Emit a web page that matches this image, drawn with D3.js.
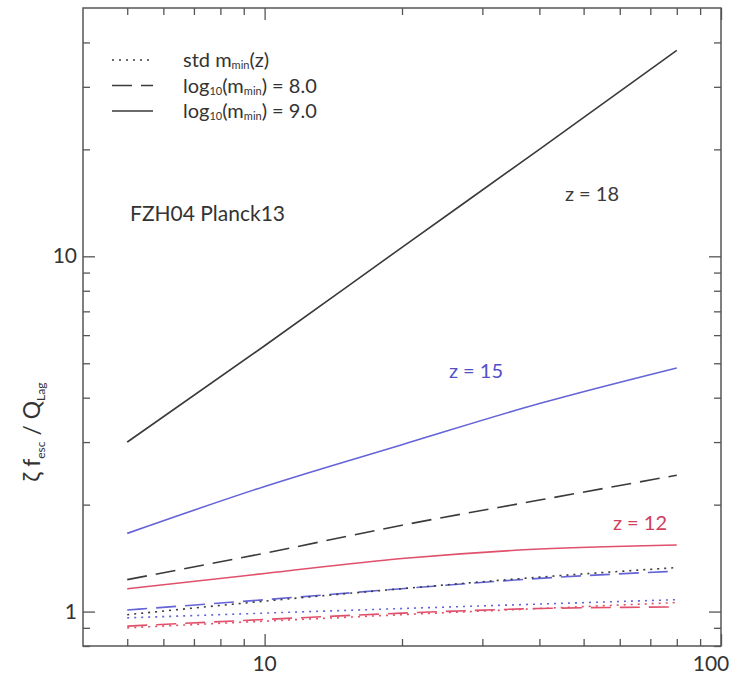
<!DOCTYPE html>
<html>
<head>
<meta charset="utf-8">
<script src="https://cdn.jsdelivr.net/npm/d3@7"></script>
<style>
  body { margin: 0; background: #fff; }
  svg text { font-family: Lato, "Open Sans", sans-serif; fill: #333; }
</style>
</head>
<body>
<div id="chart"></div>
<script>
// Log-log chart of zeta f_esc / Q against x, three redshifts, three m_min choices.

const xs = [5, 10, 20, 40, 80];

// z = 18 (black)
const z18Std = [0.98, 1.07, 1.16, 1.25, 1.33];
const z18M8 = [1.23, 1.46, 1.75, 2.06, 2.42];
const z18M9 = [3.0, 5.6, 10.6, 20.0, 38.0];

// z = 15 (blue)
const z15Std = [0.96, 0.99, 1.02, 1.05, 1.08];
const z15M8 = [1.01, 1.08, 1.16, 1.24, 1.30];
const z15M9 = [1.66, 2.25, 2.95, 3.85, 4.85];

// z = 12 (red)
const z12Std = [0.90, 0.94, 0.98, 1.02, 1.06];
const z12M8 = [0.91, 0.95, 0.99, 1.02, 1.03];
const z12M9 = [1.16, 1.28, 1.41, 1.50, 1.54];

const xMajor = [10, 100];
const xMinor = [5, 6, 7, 8, 9, 20, 30, 40, 50, 60, 70, 80, 90];
const yMajor = [1, 10];
const yMinor = [0.8, 0.9, 2, 3, 4, 5, 6, 7, 8, 9, 20, 30, 40];

const black = '#3a3a3a';
const blue = '#6464d8';
const red = '#e0506a';

const series = [
    { vals: z18M9, color: black, dash: null },
    { vals: z15M9, color: blue, dash: null },
    { vals: z12M9, color: red, dash: null },
    { vals: z18M8, color: black, dash: '20,9' },
    { vals: z15M8, color: blue, dash: '20,9' },
    { vals: z12M8, color: red, dash: '20,9' },
    { vals: z18Std, color: black, dash: '2,5' },
    { vals: z15Std, color: blue, dash: '2,5' },
    { vals: z12Std, color: red, dash: '2,5' }
];

const width = 738, height = 676;
const margin = { left: 83, right: 17, top: 8, bottom: 30 };

const svg = d3.select('#chart').append('svg')
    .attr('width', width)
    .attr('height', height);

const x = d3.scaleLog().domain([4, 100]).range([margin.left, width - margin.right]);
const y = d3.scaleLog().domain([0.8, 50]).range([height - margin.bottom, margin.top]);

const x0 = x.range()[0], x1 = x.range()[1];
const y0 = y.range()[0], y1 = y.range()[1];

// Curves.
const line = d3.line()
    .x((d, i) => x(xs[i]))
    .y(d => y(d))
    .curve(d3.curveMonotoneX);

svg.append('g')
    .selectAll('path')
    .data(series)
    .enter()
    .append('path')
    .attr('d', d => line(d.vals))
    .attr('fill', 'none')
    .attr('stroke', d => d.color)
    .attr('stroke-width', 1.6)
    .attr('stroke-dasharray', d => d.dash);

// Ticks pointing inward on all four sides.
function ticks(axisFn, scale, values, len, pos, isX) {
    const g = svg.append('g')
        .attr('transform', isX ? `translate(0,${pos})` : `translate(${pos},0)`)
        .call(axisFn(scale).tickValues(values).tickSize(len).tickFormat(''));
    g.select('.domain').remove();
    g.selectAll('line').attr('stroke', '#555').attr('stroke-width', 1.3);
}

ticks(d3.axisTop, x, xMajor, 12, y0, true);
ticks(d3.axisTop, x, xMinor, 7, y0, true);
ticks(d3.axisBottom, x, xMajor, 12, y1, true);
ticks(d3.axisBottom, x, xMinor, 7, y1, true);
ticks(d3.axisRight, y, yMajor, 12, x0, false);
ticks(d3.axisRight, y, yMinor, 7, x0, false);
ticks(d3.axisLeft, y, yMajor, 12, x1, false);
ticks(d3.axisLeft, y, yMinor, 7, x1, false);

// Frame.
svg.append('rect')
    .attr('x', x0).attr('y', y1)
    .attr('width', x1 - x0).attr('height', y0 - y1)
    .attr('fill', 'none')
    .attr('stroke', '#555')
    .attr('stroke-width', 1.5);

// Tick labels.
svg.append('g')
    .selectAll('text')
    .data(xMajor)
    .enter()
    .append('text')
    .attr('x', d => x(d) - (d === 100 ? 10 : 0))
    .attr('y', y0 + 25)
    .attr('text-anchor', 'middle')
    .attr('font-size', 21)
    .text(d => d);

svg.append('g')
    .selectAll('text')
    .data(yMajor)
    .enter()
    .append('text')
    .attr('x', x0 - 6)
    .attr('y', d => y(d) + 7)
    .attr('text-anchor', 'end')
    .attr('font-size', 21)
    .text(d => d);

// Y axis title.
const yt = svg.append('text')
    .attr('transform', `translate(40,${y(3.2)}) rotate(-90)`)
    .attr('text-anchor', 'middle')
    .attr('font-size', 23);
yt.append('tspan').text('ζ f');
yt.append('tspan').attr('font-size', 12).attr('dy', 5).text('esc');
yt.append('tspan').attr('dy', -5).text(' / Q');
yt.append('tspan').attr('font-size', 12).attr('dy', 5).text('Lag');

// Legend.
const legend = [
    { dash: '2,5', pre: 'std m', sub: 'min', post: '(z)' },
    { dash: '20,9', pre: 'log', sub10: '10', mid: '(m', sub: 'min', post: ') = 8.0' },
    { dash: null, pre: 'log', sub10: '10', mid: '(m', sub: 'min', post: ') = 9.0' }
];
const lg = svg.append('g');
legend.forEach((d, i) => {
    const cy = 60 + i * 25.5;
    lg.append('line')
        .attr('x1', 112).attr('x2', 153)
        .attr('y1', cy).attr('y2', cy)
        .attr('stroke', black)
        .attr('stroke-width', 1.6)
        .attr('stroke-dasharray', d.dash);
    const t = lg.append('text')
        .attr('x', 183).attr('y', cy + 7)
        .attr('font-size', 20);
    t.append('tspan').text(d.pre);
    if (d.sub10) {
        t.append('tspan').attr('font-size', 11).attr('dy', 2).text(d.sub10);
        t.append('tspan').attr('dy', -2).text(d.mid);
    }
    t.append('tspan').attr('font-size', 11).attr('dy', 2).text(d.sub);
    t.append('tspan').attr('dy', -2).text(d.post);
});

// Annotations.
svg.append('text')
    .attr('x', 130).attr('y', 221)
    .attr('font-size', 21)
    .text('FZH04 Planck13');

const labels = [
    { text: 'z = 18', cx: 592, cy: 194, color: black },
    { text: 'z = 15', cx: 476, cy: 371, color: '#5050c8' },
    { text: 'z = 12', cx: 640, cy: 523, color: '#d04060' }
];
svg.append('g')
    .selectAll('text')
    .data(labels)
    .enter()
    .append('text')
    .attr('x', d => d.cx)
    .attr('y', d => d.cy + 7)
    .attr('text-anchor', 'middle')
    .attr('font-size', 20)
    .style('fill', d => d.color)
    .text(d => d.text);
</script>
</body>
</html>
